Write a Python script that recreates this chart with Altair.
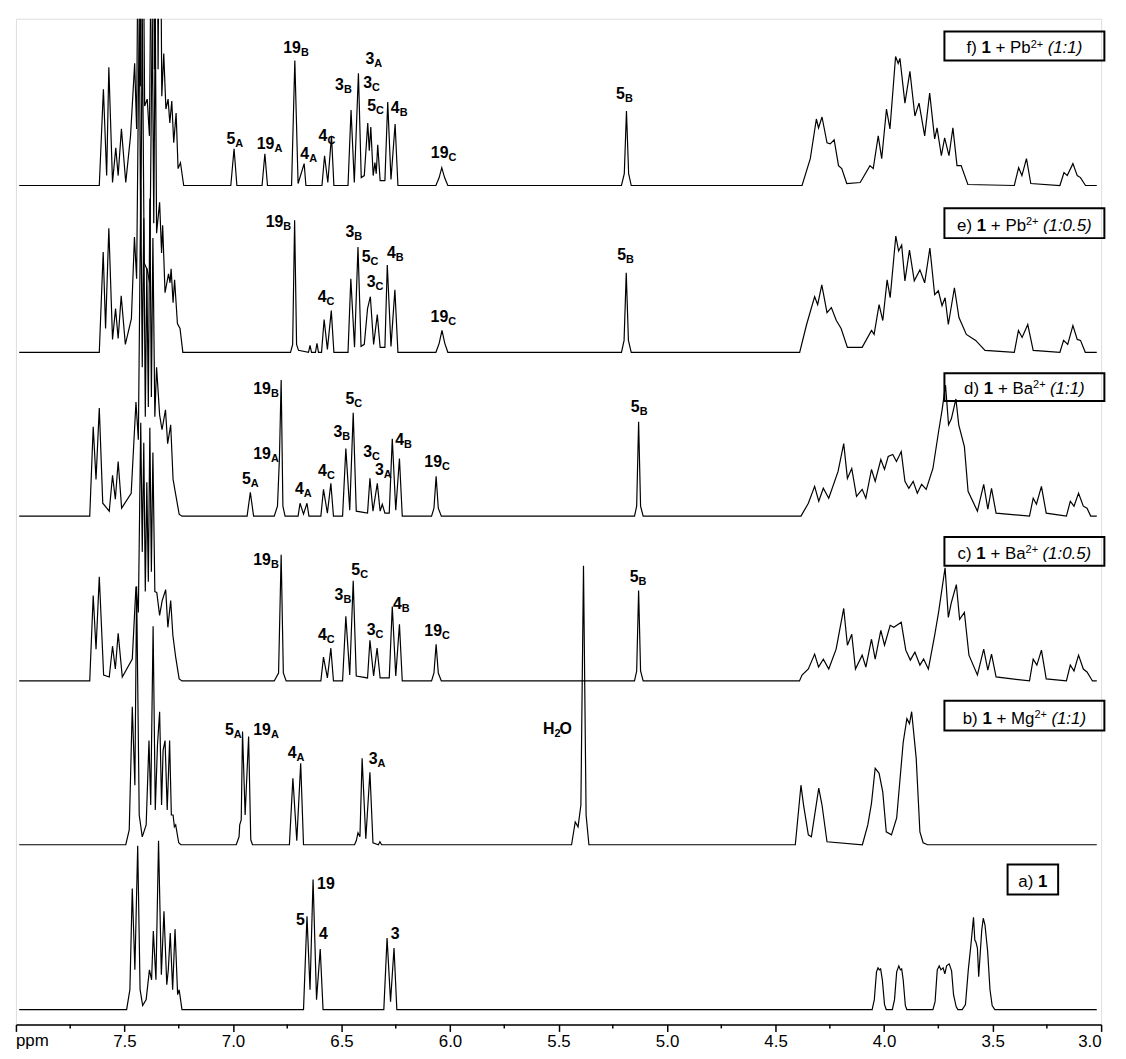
import altair as alt
import pandas as pd

# ---------------- data ----------------
NAMES = ["a", "b", "c", "d", "e", "f"]
OFFSETS = [15, 181, 346, 512, 677, 845]   # vertical stacking offsets of the spectra

SPEC_A = [(7.985,0),(7.49,0),(7.475,20),(7.464,122),(7.452,40),(7.439,165),(7.428,20),(7.416,4),(7.40,10),(7.385,40),(7.375,30),(7.367,79),(7.355,30),(7.343,170),(7.33,35),(7.318,99),(7.305,25),(7.298,40),(7.289,77),(7.278,20),(7.267,81),(7.255,15),(7.248,20),(7.235,0),
          (6.675,0),(6.659,94),(6.645,20),(6.631,131),(6.615,10),(6.598,61),(6.585,0),
          (6.305,0),(6.29,72),(6.274,8),(6.258,62),(6.245,0),
          (4.055,0),(4.045,10),(4.035,38),(4.028,42),(4.022,40),(4.016,41),(4.008,30),(3.998,5),(3.99,0),
          (3.962,0),(3.952,10),(3.942,38),(3.932,44),(3.925,40),(3.919,41),(3.912,30),(3.902,4),(3.895,0),
          (3.775,0),(3.765,8),(3.755,40),(3.746,44),(3.738,40),(3.728,42),(3.72,36),(3.712,44),(3.7,46),(3.689,39),(3.68,15),(3.668,3),(3.66,0),
          (3.64,0),(3.625,5),(3.612,40),(3.6,65),(3.588,93),(3.582,70),(3.577,68),(3.57,62),(3.564,33),(3.556,60),(3.55,80),(3.543,92),(3.535,85),(3.523,59),(3.512,20),(3.502,4),(3.49,0),(3.02,0)]

SPEC_B = [(7.985,0),(7.494,0),(7.478,15),(7.464,139),(7.452,60),(7.444,260),(7.432,30),(7.418,8),(7.4,20),(7.387,105),(7.379,40),(7.368,220),(7.358,35),(7.348,100),(7.338,134),(7.329,40),(7.322,95),(7.313,105),(7.303,35),(7.292,105),(7.284,30),(7.276,30),(7.27,18),(7.264,20),(7.25,2),(7.24,0),
          (6.985,0),(6.972,8),(6.969,20),(6.962,25),(6.956,114),(6.944,30),(6.928,109),(6.918,5),(6.91,0),
          (6.74,0),(6.724,67),(6.706,4),(6.688,82),(6.675,0),
          (6.44,0),(6.432,4),(6.424,12),(6.415,8),(6.405,87),(6.388,6),(6.369,73),(6.355,2),(6.33,0),(6.323,3),(6.315,0),
          (5.44,0),(5.423,23),(5.41,18),(5.397,40),(5.385,281),(5.373,30),(5.36,0),
          (4.409,0),(4.383,60),(4.371,40),(4.349,10),(4.335,8),(4.301,57),(4.286,40),(4.263,3),(4.10,0),(4.075,20),(4.058,42),(4.041,77),(4.023,72),(4.006,53),(3.99,13),(3.966,10),(3.942,27),(3.912,103),(3.895,127),(3.883,122),(3.873,134),(3.852,87),(3.835,13),(3.82,2),(3.80,0),(3.02,0)]

SPEC_C = [(7.985,0),(7.66,0),(7.644,86),(7.631,32),(7.616,105),(7.596,6),(7.57,4),(7.555,35),(7.542,12),(7.529,48),(7.51,4),(7.464,22),(7.447,95),(7.436,69),(7.425,260),(7.418,130),(7.411,240),(7.404,90),(7.397,200),(7.39,100),(7.383,255),(7.376,110),(7.369,230),(7.36,90),(7.351,89),(7.338,66),(7.326,81),(7.31,92),(7.3,54),(7.287,81),(7.277,46),(7.264,24),(7.248,2),(7.235,0),
          (6.81,0),(6.79,8),(6.778,127),(6.768,8),(6.755,0),
          (6.595,0),(6.583,24),(6.565,3),(6.549,33),(6.537,0),
          (6.495,0),(6.48,65),(6.462,6),(6.446,101),(6.432,5),(6.38,3),(6.369,41),(6.352,5),(6.336,33),(6.322,3),(6.28,3),(6.266,75),(6.25,5),(6.233,57),(6.22,0),
          (6.085,0),(6.074,8),(6.064,37),(6.054,8),(6.04,0),
          (5.15,0),(5.14,10),(5.131,91),(5.122,10),(5.11,0),
          (4.39,0),(4.378,6),(4.349,12),(4.32,27),(4.302,14),(4.28,22),(4.255,12),(4.221,32),(4.186,73),(4.169,36),(4.149,47),(4.132,12),(4.101,26),(4.084,14),(4.058,42),(4.041,22),(4.015,51),(3.998,36),(3.972,56),(3.955,54),(3.921,59),(3.9,31),(3.879,21),(3.858,29),(3.835,16),(3.818,22),(3.796,12),(3.767,46),(3.749,69),(3.719,114),(3.704,64),(3.69,79),(3.667,97),(3.652,62),(3.63,69),(3.609,26),(3.57,6),(3.541,32),(3.522,11),(3.505,27),(3.484,4),
          (3.33,0),(3.313,22),(3.296,16),(3.275,31),(3.253,2),
          (3.16,0),(3.142,16),(3.125,10),(3.104,26),(3.082,12),(3.065,9),(3.04,0),(3.02,0)]

SPEC_D = [(7.985,0),(7.66,0),(7.644,90),(7.631,37),(7.616,109),(7.6,13),(7.57,5),(7.555,41),(7.542,17),(7.529,55),(7.513,8),(7.469,23),(7.447,115),(7.436,77),(7.425,330),(7.418,150),(7.411,300),(7.404,100),(7.397,250),(7.39,110),(7.383,320),(7.376,120),(7.369,280),(7.36,100),(7.352,150),(7.338,102),(7.327,87),(7.311,107),(7.301,73),(7.287,92),(7.276,37),(7.264,22),(7.248,2),(7.235,0),
          (6.935,0),(6.92,24),(6.905,0),
          (6.81,0),(6.795,10),(6.786,58),(6.778,137),(6.77,10),(6.76,0),
          (6.70,0),(6.691,13),(6.675,2),(6.659,13),(6.65,0),
          (6.595,0),(6.583,27),(6.565,3),(6.549,33),(6.537,0),
          (6.495,0),(6.48,68),(6.462,6),(6.446,104),(6.432,5),(6.38,3),(6.369,38),(6.355,5),(6.335,33),(6.322,5),(6.312,12),(6.30,3),(6.28,3),(6.266,78),(6.25,6),(6.233,58),(6.22,0),
          (6.085,0),(6.074,8),(6.064,40),(6.054,8),(6.04,0),
          (5.15,0),(5.14,10),(5.131,95),(5.122,10),(5.11,0),
          (4.383,0),(4.349,13),(4.32,30),(4.301,15),(4.28,28),(4.255,18),(4.212,45),(4.186,73),(4.169,38),(4.149,48),(4.127,20),(4.101,27),(4.084,18),(4.058,47),(4.041,35),(4.015,57),(3.998,47),(3.981,60),(3.96,62),(3.943,55),(3.921,65),(3.904,35),(3.886,28),(3.866,35),(3.847,23),(3.827,32),(3.806,27),(3.775,48),(3.749,85),(3.732,108),(3.717,132),(3.703,92),(3.69,98),(3.669,118),(3.656,92),(3.63,70),(3.613,25),(3.57,5),(3.541,32),(3.522,7),(3.505,28),(3.484,3),
          (3.33,0),(3.313,18),(3.298,12),(3.275,30),(3.253,3),
          (3.16,0),(3.142,15),(3.125,10),(3.104,23),(3.082,10),(3.065,8),(3.048,0),(3.02,0)]

SPEC_E = [(7.985,0),(7.616,0),(7.598,101),(7.587,24),(7.572,125),(7.555,13),(7.541,44),(7.529,14),(7.515,57),(7.496,8),(7.468,34),(7.454,116),(7.444,74),(7.432,345),(7.425,110),(7.418,345),(7.409,90),(7.395,83),(7.384,70),(7.372,345),(7.365,130),(7.358,345),(7.352,120),(7.338,151),(7.329,100),(7.324,128),(7.313,60),(7.297,79),(7.29,70),(7.285,84),(7.276,50),(7.269,73),(7.256,29),(7.244,24),(7.231,0),
          (6.735,0),(6.725,8),(6.716,133),(6.707,8),(6.698,2),
          (6.652,0),(6.645,7),(6.638,0),(6.62,0),(6.613,9),(6.606,0),
          (6.592,0),(6.58,33),(6.565,3),(6.547,42),(6.535,0),
          (6.47,0),(6.457,74),(6.44,5),(6.424,106),(6.41,6),(6.395,8),(6.38,44),(6.367,56),(6.352,8),(6.335,38),(6.322,5),(6.30,5),(6.289,88),(6.272,6),(6.254,63),(6.24,0),
          (6.065,0),(6.05,9),(6.037,22),(6.024,9),(6.01,0),
          (5.21,0),(5.198,12),(5.188,80),(5.178,12),(5.165,0),
          (4.389,0),(4.357,28),(4.32,56),(4.306,48),(4.287,68),(4.263,40),(4.243,45),(4.22,32),(4.198,24),(4.169,5),(4.101,5),(4.058,22),(4.046,18),(4.023,48),(4.006,32),(3.986,73),(3.972,55),(3.946,117),(3.933,102),(3.919,108),(3.904,72),(3.883,103),(3.861,72),(3.835,83),(3.813,70),(3.789,105),(3.767,58),(3.75,62),(3.733,47),(3.719,55),(3.704,28),(3.676,65),(3.655,35),(3.621,18),(3.578,12),(3.535,2),
          (3.40,0),(3.381,22),(3.364,15),(3.338,28),(3.313,2),
          (3.19,0),(3.173,12),(3.154,8),(3.13,27),(3.11,13),(3.095,12),(3.073,0),(3.02,0)]

SPEC_F = [(7.985,0),(7.616,0),(7.597,97),(7.582,10),(7.572,119),(7.555,3),(7.540,38),(7.529,10),(7.514,57),(7.494,3),(7.472,50),(7.453,123),(7.444,57),(7.433,400),(7.426,100),(7.418,400),(7.407,80),(7.395,87),(7.385,50),(7.371,400),(7.362,117),(7.352,400),(7.345,117),(7.337,400),(7.328,90),(7.319,133),(7.309,77),(7.299,87),(7.291,63),(7.282,85),(7.273,43),(7.262,73),(7.253,17),(7.242,23),(7.227,0),
          (7.010,0),(6.995,37),(6.982,0),
          (6.866,0),(6.853,32),(6.841,0),
          (6.73,0),(6.715,126),(6.70,2),(6.672,22),(6.664,0),
          (6.59,0),(6.578,30),(6.563,3),(6.546,50),(6.535,0),
          (6.47,0),(6.456,76),(6.441,3),(6.422,113),(6.409,8),(6.395,10),(6.379,63),(6.372,35),(6.365,59),(6.354,10),(6.346,23),(6.340,12),(6.333,41),(6.322,5),(6.30,5),(6.287,84),(6.272,6),(6.253,62),(6.24,0),
          (6.065,0),(6.05,8),(6.038,18),(6.025,8),(6.01,0),
          (5.21,0),(5.197,12),(5.187,75),(5.177,12),(5.165,0),
          (4.378,0),(4.34,27),(4.312,67),(4.302,58),(4.286,69),(4.263,43),(4.248,42),(4.23,46),(4.21,20),(4.195,17),(4.172,2),(4.11,3),(4.065,20),(4.05,17),(4.027,50),(4.011,27),(3.989,77),(3.973,57),(3.947,130),(3.935,123),(3.927,128),(3.904,83),(3.881,115),(3.858,70),(3.839,83),(3.813,50),(3.79,93),(3.767,47),(3.756,58),(3.736,30),(3.721,48),(3.701,30),(3.683,58),(3.664,20),(3.645,20),(3.614,1),
          (3.40,0),(3.38,18),(3.365,10),(3.344,27),(3.324,2),
          (3.19,0),(3.171,13),(3.156,10),(3.13,22),(3.11,10),(3.095,8),(3.072,0),(3.02,0)]

SPECTRA = [SPEC_A, SPEC_B, SPEC_C, SPEC_D, SPEC_E, SPEC_F]

# peak labels: (spectrum, number, subscript, ppm, height above that spectrum's baseline)
PEAK_LABELS = [
    ("a","19","",6.531,121),("a","5","",6.669,85),("a","4","",6.563,71),("a","3","",6.232,71),
    ("b","5","A",6.996,111),("b","19","A",6.825,111),("b","4","A",6.707,87),("b","3","A",6.334,81),("b","H","2",5.519,112),
    ("c","19","B",6.825,117),("c","5","C",6.414,107),("c","3","B",6.491,82),("c","4","C",6.568,41),("c","3","C",6.343,46),("c","4","B",6.222,72),("c","19","C",6.037,45),("c","5","B",5.131,100),
    ("d","19","B",6.825,123),("d","19","A",6.825,58),("d","5","A",6.918,32),("d","4","A",6.674,22),("d","4","C",6.567,40),("d","3","B",6.496,80),("d","5","C",6.441,113),("d","3","C",6.359,60),("d","3","A",6.305,41),("d","4","B",6.212,72),("d","19","C",6.037,49),("d","5","B",5.126,105),
    ("e","19","B",6.768,126),("e","4","C",6.569,51),("e","3","B",6.441,116),("e","5","C",6.366,91),("e","3","C",6.343,66),("e","4","B",6.25,95),("e","19","C",6.008,31),("e","5","B",5.189,93),
    ("f","5","A",6.989,42),("f","19","A",6.809,37),("f","19","B",6.687,133),("f","4","A",6.649,27),("f","4","C",6.565,45),("f","3","B",6.489,96),("f","3","A",6.349,122),("f","3","C",6.359,98),("f","5","C",6.341,75),("f","4","B",6.232,73),("f","19","C",6.007,28),("f","5","B",5.194,87),
]
SUFFIX_LABELS = [("b", "O", 5.495, 112)]   # the "O" of H2O

# boxed sample labels
BOX_LETTER = ["a)", "b)", "c)", "d)", "e)", "f)"]
BOX_METAL = ["", "Mg", "Ba", "Ba", "Pb", "Pb"]
BOX_RATIO = ["", "1:1", "1:0.5", "1:1", "1:0.5", "1:1"]
BOX_LEFT = [3.431, 3.722, 3.722, 3.722, 3.722, 3.722]
BOX_RIGHT = [3.198, 2.985, 2.985, 2.985, 2.985, 2.985]
BOX_TOP = [146, 145, 145, 144, 145, 155]
BOX_BOTTOM = [116, 115, 116, 116, 115, 126]

MAJOR_TICKS = [8.0, 7.5, 7.0, 6.5, 6.0, 5.5, 5.0, 4.5, 4.0, 3.5, 3.0]
MINOR_TICKS = [7.75, 7.25, 6.75, 6.25, 5.75, 5.25, 4.75, 4.25, 3.75, 3.25]

# ---------------- layout constants ----------------
W, H = 1093, 1013
PX_PER_PPM = W / 5.0
FONT = "Liberation Sans"

# ---------------- build tables ----------------
off = dict(zip(NAMES, OFFSETS))
rows = []
for name, spec in zip(NAMES, SPECTRA):
    for i, (p, h) in enumerate(spec):
        rows.append({"spec": name, "idx": i, "ppm": p, "v": off[name] + h})
lines_df = pd.DataFrame(rows)

lab_df = pd.DataFrame([{"spec": s, "main": m, "sub": sb, "ppm": p, "v": off[s] + h}
                       for s, m, sb, p, h in PEAK_LABELS])
suf_df = pd.DataFrame([{"spec": s, "txt": t, "ppm": p, "v": off[s] + h} for s, t, p, h in SUFFIX_LABELS])

box_df = pd.DataFrame([{"ppm": BOX_LEFT[k], "ppm2": BOX_RIGHT[k],
                        "v": OFFSETS[k] + BOX_TOP[k], "v2": OFFSETS[k] + BOX_BOTTOM[k]}
                       for k in range(6)])

# text pieces inside boxes (Arial advance widths, 1/1000 em)
AW = {' ': 278, '(': 333, ')': 333, '+': 584, ':': 278, '.': 278, '0': 556, '1': 556, '2': 556,
      '5': 556, 'a': 556, 'b': 556, 'c': 500, 'd': 556, 'e': 556, 'f': 278, 'g': 556,
      'B': 667, 'M': 833, 'P': 667}
def tw(s, size):
    return sum(AW.get(ch, 556) for ch in s) * size / 1000.0

FS, FSUP = 17, 11
pieces = []
for k in range(6):
    parts = [("reg", BOX_LETTER[k], tw(BOX_LETTER[k] + " ", FS)),
             ("bold", "1", tw("1", FS))]
    if BOX_METAL[k]:
        parts[-1] = ("bold", "1", tw("1 ", FS))
        parts += [("reg", "+ " + BOX_METAL[k], tw("+ " + BOX_METAL[k], FS)),
                  ("sup", "2+", tw("2+ ", FSUP) + tw(" ", FS) * 0.3),
                  ("ital", "(" + BOX_RATIO[k] + ")", tw("(" + BOX_RATIO[k] + ")", FS))]
    total = sum(p[2] for p in parts)
    center_px = (8.0 - (BOX_LEFT[k] + BOX_RIGHT[k]) / 2) * PX_PER_PPM
    x = center_px - total / 2
    base = OFFSETS[k] + BOX_BOTTOM[k] + 7
    for style, txt, w in parts:
        pieces.append({"style": style, "txt": txt, "ppm": 8.0 - x / PX_PER_PPM,
                       "v": base + (6 if style == "sup" else 0)})
        x += w
pieces_df = pd.DataFrame(pieces)

minor_df = pd.DataFrame({"ppm": MINOR_TICKS})
ppm_df = pd.DataFrame({"ppm": [8.0], "v": [-22], "txt": ["ppm"]})

# ---------------- encodings ----------------
xscale = alt.Scale(domain=[8.0, 3.0], nice=False, zero=False)
xaxis = alt.Axis(values=MAJOR_TICKS, labelExpr="datum.value == 8 ? '' : format(datum.value, '.1f')",
                 tickSize=7, tickWidth=1.5, tickColor="black", domainColor="black", domainWidth=1.5,
                 labelFont=FONT, labelFontSize=17, labelColor="black", labelPadding=2,
                 grid=False, title=None, labelOverlap=False)
X = alt.X("ppm:Q", scale=xscale, axis=xaxis, title=None)
yscale = alt.Scale(domain=[0, H], nice=False, zero=False)
Y = alt.Y("v:Q", scale=yscale, axis=None)

lines = alt.Chart(lines_df).mark_line(color="black", strokeWidth=1.2, clip=True).encode(
    x=X, y=Y, detail="spec:N", order="idx:Q")

minor = alt.Chart(minor_df).mark_rule(color="black", strokeWidth=1.5).encode(
    x=X, y=alt.value(H), y2=alt.value(H + 4))

ppm_txt = alt.Chart(ppm_df).mark_text(align="left", baseline="alphabetic", font=FONT,
                                      fontSize=17, color="black").encode(x=X, y=Y, text="txt:N")

lab_main = alt.Chart(lab_df).mark_text(align="right", baseline="alphabetic", font=FONT,
                                       fontSize=16, fontWeight="bold", color="black").encode(
    x=X, y=Y, text="main:N")
lab_sub = alt.Chart(lab_df).mark_text(align="left", baseline="alphabetic", font=FONT,
                                      fontSize=11, fontWeight="bold", color="black", dy=3).encode(
    x=X, y=Y, text="sub:N")
lab_suf = alt.Chart(suf_df).mark_text(align="left", baseline="alphabetic", font=FONT,
                                      fontSize=16, fontWeight="bold", color="black").encode(
    x=X, y=Y, text="txt:N")

boxes = alt.Chart(box_df).mark_rect(fill="white", fillOpacity=0, stroke="black", strokeWidth=2).encode(
    x=X, x2="ppm2:Q", y=Y, y2="v2:Q")

def piece_layer(style, **kw):
    return alt.Chart(pieces_df).transform_filter(alt.datum.style == style).mark_text(
        align="left", baseline="alphabetic", font=FONT, color="black", **kw).encode(
        x=X, y=Y, text="txt:N")

p_reg = piece_layer("reg", fontSize=FS)
p_bold = piece_layer("bold", fontSize=FS, fontWeight="bold")
p_sup = piece_layer("sup", fontSize=FSUP)
p_ital = piece_layer("ital", fontSize=FS, fontStyle="italic")

chart = alt.layer(lines, minor, boxes, lab_main, lab_sub, lab_suf, p_reg, p_bold, p_sup, p_ital, ppm_txt).properties(
    width=W, height=H, autosize="none",
    padding={"left": 8, "top": 7, "right": 17, "bottom": 31},
).configure_view(strokeWidth=0, stroke="transparent").configure(background="white")

chart.save("out.html", embed_options={"renderer": "svg", "actions": False})
